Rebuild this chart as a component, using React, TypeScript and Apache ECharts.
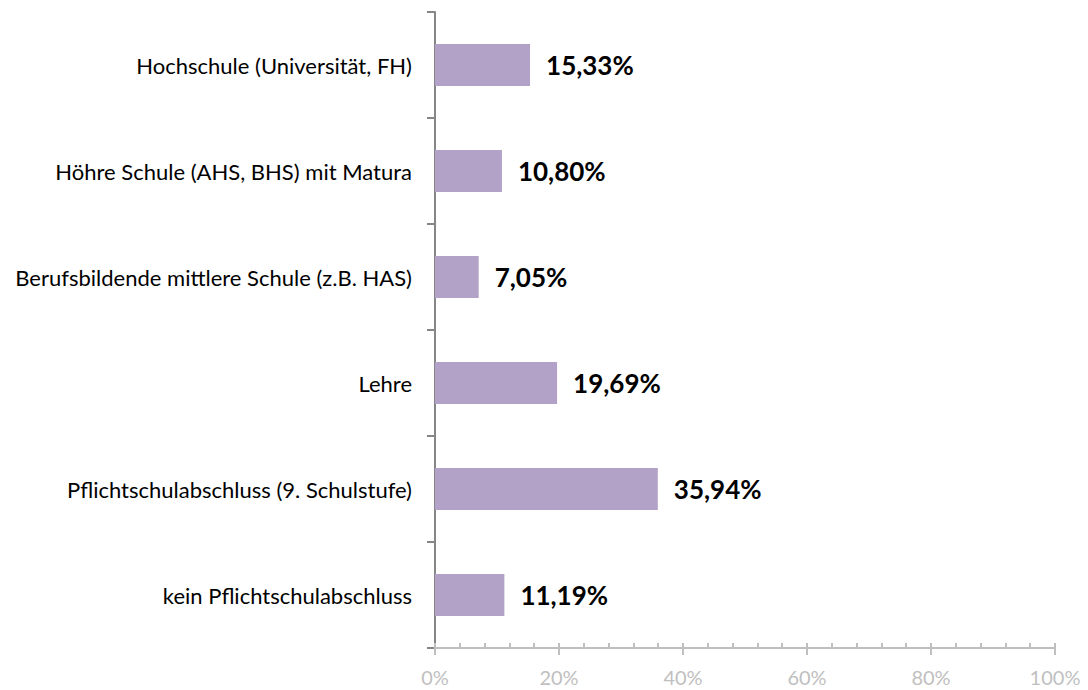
import React, { useEffect, useRef } from "react";
import * as echarts from "echarts";

const categories = [
  "kein Pflichtschulabschluss",
  "Pflichtschulabschluss (9. Schulstufe)",
  "Lehre",
  "Berufsbildende mittlere Schule (z.B. HAS)",
  "Höhre Schule (AHS, BHS) mit Matura",
  "Hochschule (Universität, FH)",
];
const values = [11.19, 35.94, 19.69, 7.05, 10.8, 15.33];

const FONT = "Lato, 'Open Sans', sans-serif";

export default function App() {
  const ref = useRef<HTMLDivElement>(null);
  useEffect(() => {
    if (!ref.current) return;
    const chart = echarts.init(ref.current, null, { renderer: "svg" });
    const grid = { left: 435, right: 33, top: 12, bottom: 42 };
    chart.setOption({
      animation: false,
      grid,
      xAxis: [
        {
          type: "value",
          min: 0,
          max: 100,
          interval: 20,
          position: "bottom",
          axisLine: { show: true, lineStyle: { color: "#bfbfbf", width: 2 } },
          axisTick: { show: true, inside: false, length: 7, lineStyle: { color: "#bfbfbf", width: 2 } },
          splitLine: { show: false },
          axisLabel: {
            formatter: (v: number) => v + "%",
            color: "#bfbfbf",
            fontSize: 20,
            fontFamily: FONT,
            margin: 19,
          },
        },
        {
          type: "value",
          min: 0,
          max: 100,
          interval: 20,
          position: "bottom",
          axisLine: { show: false },
          axisTick: { show: true, inside: true, length: 5, lineStyle: { color: "#bfbfbf", width: 2 } },
          minorTick: { show: true, splitNumber: 5, length: 5, lineStyle: { color: "#bfbfbf", width: 2 } },
          splitLine: { show: false },
          axisLabel: { show: false },
        },
      ],
      yAxis: {
        type: "category",
        data: categories,
        axisLine: { show: true, lineStyle: { color: "#868686", width: 2 } },
        axisTick: { show: true, length: 8, lineStyle: { color: "#868686", width: 2 } },
        axisLabel: {
          color: "#000",
          fontSize: 22,
          fontFamily: FONT,
          margin: 23,
        },
      },
      series: [
        {
          type: "bar",
          data: values,
          xAxisIndex: 0,
          barWidth: 42,
          itemStyle: { color: "#b3a2c7" },
          label: {
            show: true,
            position: "right",
            distance: 16,
            formatter: (p: any) => p.value.toFixed(2).replace(".", ",") + "%",
            color: "#000",
            fontSize: 26,
            fontWeight: "bold",
            fontFamily: FONT,
          },
        },
      ],
    });
    return () => chart.dispose();
  }, []);
  return <div ref={ref} style={{ width: 1088, height: 690, position: "absolute", left: 0, top: 0 }} />;
}
